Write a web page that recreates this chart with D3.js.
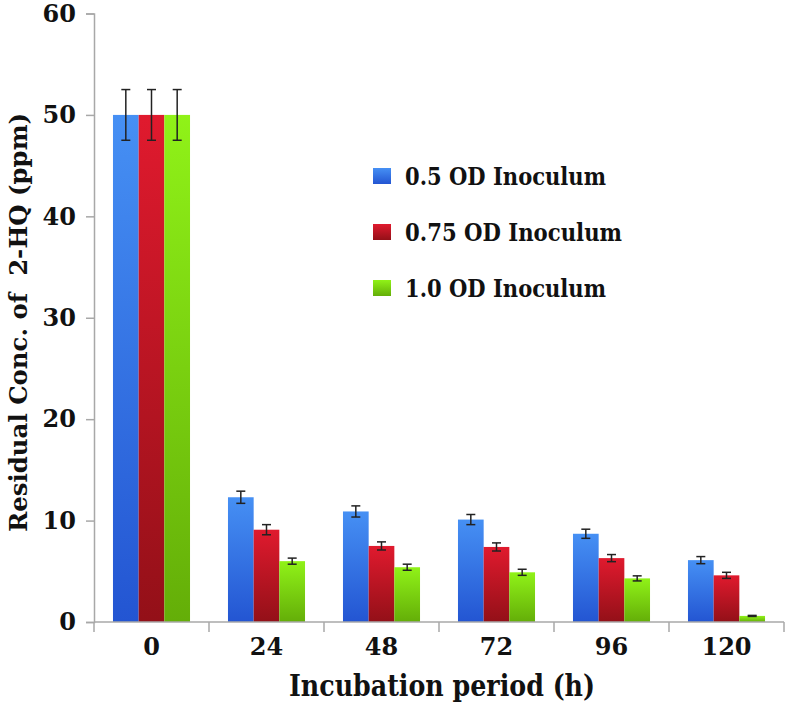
<!DOCTYPE html>
<html>
<head>
<meta charset="utf-8">
<script src="https://cdn.jsdelivr.net/npm/d3@7"></script>
<style>
  html, body { margin: 0; padding: 0; background: #fff; }
  svg { display: block; }
  text { font-family: "DejaVu Serif", "Liberation Serif", serif; font-weight: bold; fill: #111; }
</style>
</head>
<body>
<svg id="chart" width="786" height="705"></svg>
<script>
const categories = ["0", "24", "48", "72", "96", "120"];
const seriesNames = ["0.5 OD Inoculum", "0.75 OD Inoculum", "1.0 OD Inoculum"];
const blueValues  = [50, 12.3, 10.9, 10.1, 8.7, 6.1];
const redValues   = [50, 9.1, 7.5, 7.4, 6.3, 4.6];
const greenValues = [50, 6.0, 5.4, 4.9, 4.3, 0.6];
const blueErrors  = [2.5, 0.6, 0.55, 0.5, 0.45, 0.35];
const redErrors   = [2.5, 0.5, 0.4, 0.4, 0.35, 0.3];
const greenErrors = [2.5, 0.3, 0.3, 0.3, 0.25, 0.05];
const yTicks = [0, 10, 20, 30, 40, 50, 60];
const xTitle = "Incubation period (h)";
const yTitle = "Residual Conc. of  2-HQ (ppm)";

const series = [
  { name: seriesNames[0], values: blueValues, errors: blueErrors, c1: "#4690f4", c2: "#2355d2", lw: 201 },
  { name: seriesNames[1], values: redValues, errors: redErrors, c1: "#e01a2e", c2: "#931018", lw: 217 },
  { name: seriesNames[2], values: greenValues, errors: greenErrors, c1: "#90f218", c2: "#64ae08", lw: 201 }
];

const svg = d3.select("#chart");
const mLeft = 94, mRight = 784, mTop = 13.5, mBottom = 622;

const x = d3.scaleBand().domain(categories).range([mLeft, mRight]).paddingInner(0).paddingOuter(0);
const inner = d3.scaleBand().domain(d3.range(series.length)).range([x.bandwidth() * 0.165, x.bandwidth() * 0.835]);
const y = d3.scaleLinear().domain([0, 60]).range([mBottom, mTop]);

const defs = svg.append("defs");
series.forEach((s, i) => {
  const g = defs.append("linearGradient").attr("id", "grad" + i)
    .attr("x1", 0).attr("y1", 0).attr("x2", 0).attr("y2", 1);
  g.append("stop").attr("offset", "0%").attr("stop-color", s.c1);
  g.append("stop").attr("offset", "100%").attr("stop-color", s.c2);
});

// Y axis
const yAxis = d3.axisLeft(y).tickValues(yTicks).tickSize(8).tickPadding(10).tickFormat(d3.format("d"));
const yg = svg.append("g").attr("transform", `translate(${mLeft},0)`).call(yAxis);
yg.select(".domain").attr("stroke", "#a8a8a8").attr("stroke-width", 1.5);
yg.selectAll(".tick line").attr("stroke", "#a8a8a8").attr("stroke-width", 1.5);
yg.selectAll(".tick text").attr("font-size", 24).attr("font-family", "DejaVu Serif").attr("font-weight", "bold").attr("fill", "#111");

// Bars
series.forEach((s, si) => {
  const g = svg.append("g");
  g.selectAll("rect").data(categories).join("rect")
    .attr("x", (c) => x(c) + inner(si))
    .attr("width", inner.bandwidth())
    .attr("y", (c, i) => y(s.values[i]))
    .attr("height", (c, i) => y(0) - y(s.values[i]))
    .attr("fill", `url(#grad${si})`);
});

// Error bars
series.forEach((s, si) => {
  const g = svg.append("g").attr("stroke", "#222").attr("stroke-width", 1.5).attr("fill", "none");
  categories.forEach((c, i) => {
    const cx = x(c) + inner(si) + inner.bandwidth() / 2;
    const hi = y(s.values[i] + s.errors[i]);
    const lo = y(s.values[i] - s.errors[i]);
    const cw = 4.5;
    g.append("line").attr("x1", cx).attr("x2", cx).attr("y1", hi).attr("y2", lo);
    g.append("line").attr("x1", cx - cw).attr("x2", cx + cw).attr("y1", hi).attr("y2", hi);
    g.append("line").attr("x1", cx - cw).attr("x2", cx + cw).attr("y1", lo).attr("y2", lo);
  });
});

// X axis
const xg = svg.append("g").attr("transform", `translate(0,${mBottom})`);
xg.append("line").attr("x1", mLeft).attr("x2", mRight).attr("y1", 0).attr("y2", 0)
  .attr("stroke", "#a8a8a8").attr("stroke-width", 1.5);
const boundaries = categories.map((c) => x(c)).concat([mRight]);
xg.selectAll("line.tk").data(boundaries).join("line").attr("class", "tk")
  .attr("x1", (d) => d).attr("x2", (d) => d).attr("y1", 0).attr("y2", 10)
  .attr("stroke", "#a8a8a8").attr("stroke-width", 1.5);
xg.selectAll("text").data(categories).join("text")
  .attr("x", (c) => x(c) + x.bandwidth() / 2)
  .attr("y", 33)
  .attr("text-anchor", "middle")
  .attr("font-size", 24)
  .text((c) => c);

// Axis titles
svg.append("text")
  .attr("x", 442).attr("y", 696)
  .attr("text-anchor", "middle")
  .attr("font-size", 30)
  .attr("textLength", 306).attr("lengthAdjust", "spacingAndGlyphs")
  .text(xTitle);

svg.append("text")
  .attr("transform", "translate(27,322.5) rotate(-90)")
  .attr("text-anchor", "middle")
  .attr("font-size", 25)
  .attr("textLength", 419).attr("lengthAdjust", "spacingAndGlyphs")
  .style("white-space", "pre")
  .text(yTitle);

// Legend
const legendRows = [176, 232, 288];
const lg = svg.append("g");
series.forEach((s, i) => {
  lg.append("rect").attr("x", 373).attr("y", legendRows[i] - 8).attr("width", 18).attr("height", 16)
    .attr("fill", `url(#grad${i})`);
  lg.append("text").attr("x", 405).attr("y", legendRows[i] + 9)
    .attr("font-size", 25)
    .attr("textLength", s.lw).attr("lengthAdjust", "spacingAndGlyphs")
    .text(s.name);
});
</script>
</body>
</html>
